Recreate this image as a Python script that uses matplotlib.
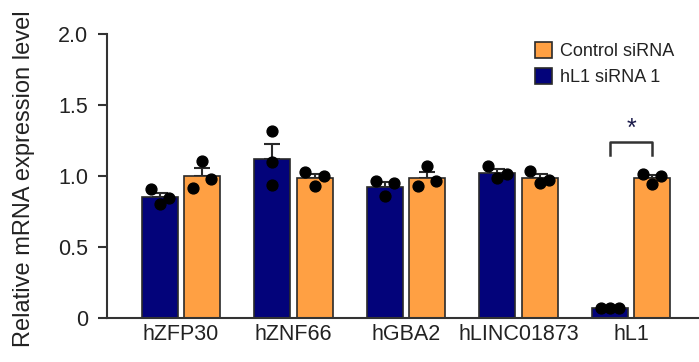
import numpy as np
import matplotlib.pyplot as plt
from matplotlib.ticker import FuncFormatter
from matplotlib.patches import Patch

plt.rcParams['font.family'] = ['Liberation Sans', 'DejaVu Sans']

genes = ["hZFP30", "hZNF66", "hGBA2", "hLINC01873", "hL1"]

# individual replicate values
sirna_pts = [
    [0.906, 0.800, 0.843],
    [1.317, 1.096, 0.937],
    [0.965, 0.861, 0.951],
    [1.073, 0.986, 1.014],
    [0.073, 0.073, 0.073],
]
control_pts = [
    [0.913, 1.106, 0.977],
    [1.030, 0.930, 1.000],
    [0.927, 1.073, 0.963],
    [1.035, 0.948, 0.974],
    [1.014, 0.941, 1.000],
]

navy = "#03037a"
orange = "#ffa043"
edge = "#2a2a2a"


def main():
    fig = plt.figure(figsize=(6.99, 3.62), dpi=100)
    ax = fig.add_axes([0.153, 0.1215, 0.847, 0.7845])

    x = np.arange(len(genes))
    width = 0.32
    off = 0.187

    for pts, shift, col in [(sirna_pts, -off, navy), (control_pts, off, orange)]:
        arr = np.array(pts)
        means = arr.mean(axis=1)
        sem = arr.std(axis=1, ddof=1) / np.sqrt(arr.shape[1])
        xs = x + shift
        ax.errorbar(xs, means, yerr=[np.zeros_like(sem), sem], fmt="none",
                    ecolor=edge, elinewidth=1.5, capsize=6, capthick=1.5, zorder=1)
        ax.bar(xs, means, width=width, color=col, edgecolor=edge, linewidth=1.2, zorder=2)
        # replicate dots
        for i in range(len(genes)):
            jit = np.array([-0.083, 0.0, 0.083])
            if col == navy and i == 1:
                jit = np.zeros(3)
            ax.plot(xs[i] + jit, arr[i], "o", color="black", markersize=7.8, zorder=3)

    # significance bracket on hL1
    xl, xr = x[4] - off, x[4] + off
    ax.plot([xl, xl, xr, xr], [1.148, 1.237, 1.237, 1.148], color="#333333", lw=1.8, zorder=4)
    ax.text(x[4], 1.245, "*", ha="center", va="bottom", fontsize=18, color="#1a1a4a")

    ax.set_xlim(-0.658, 4.604)
    ax.set_ylim(0, 2.0)
    ax.set_yticks([0, 0.5, 1.0, 1.5, 2.0])
    ax.yaxis.set_major_formatter(FuncFormatter(lambda v, p: "0" if v == 0 else f"{v:.1f}"))
    ax.set_xticks(x)
    ax.set_xticklabels(genes)

    for s in ["top", "right"]:
        ax.spines[s].set_visible(False)
    for s in ["left", "bottom"]:
        ax.spines[s].set_color("#333333")
        ax.spines[s].set_linewidth(1.5)

    ax.tick_params(axis="y", length=6.5, width=1.5, color="#333333",
                   labelsize=15.5, labelcolor="#222222", pad=7)
    ax.tick_params(axis="x", length=0, labelsize=15.5, labelcolor="#222222", pad=4)
    ax.set_ylabel("Relative mRNA expression level", fontsize=17, color="#222222")
    ax.yaxis.set_label_coords(-0.122, 0.49)

    handles = [Patch(facecolor=orange, edgecolor=edge, linewidth=1.2),
               Patch(facecolor=navy, edgecolor=edge, linewidth=1.2)]
    ax.legend(handles, ["Control siRNA", "hL1 siRNA 1"], frameon=False,
              loc="upper left", bbox_to_anchor=(535 / 699, 1 - 42 / 362),
              bbox_transform=fig.transFigure, borderpad=0, borderaxespad=0,
              handlelength=0.95, handleheight=0.95, handletextpad=0.45,
              labelspacing=0.45, fontsize=13, labelcolor="#222222")

    fig.savefig("out.png", dpi=100)


main()
